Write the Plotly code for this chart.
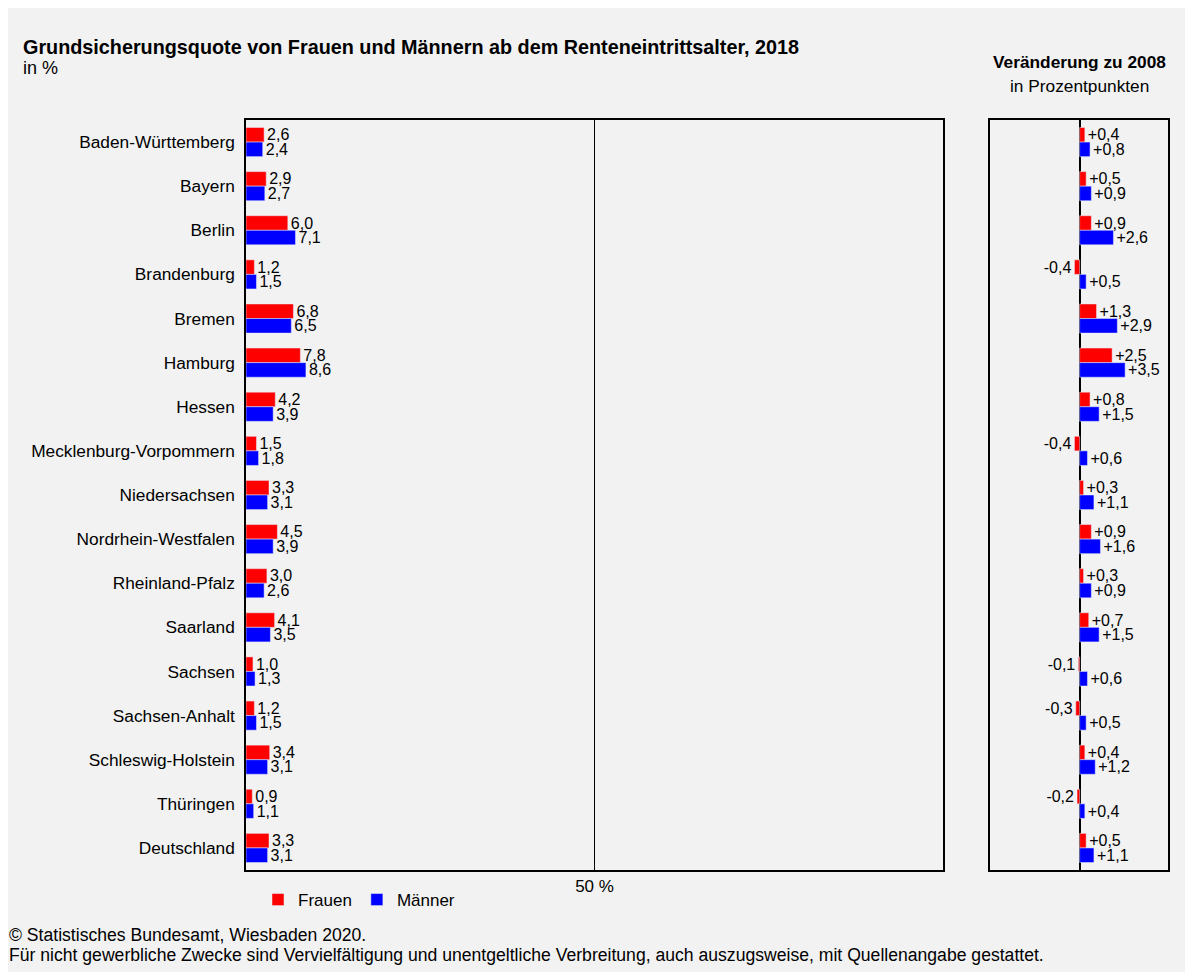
import plotly.graph_objects as go

laender = ["Baden-Württemberg", "Bayern", "Berlin", "Brandenburg", "Bremen", "Hamburg",
           "Hessen", "Mecklenburg-Vorpommern", "Niedersachsen", "Nordrhein-Westfalen",
           "Rheinland-Pfalz", "Saarland", "Sachsen", "Sachsen-Anhalt", "Schleswig-Holstein",
           "Thüringen", "Deutschland"]
frauen_2018 = [2.6, 2.9, 6.0, 1.2, 6.8, 7.8, 4.2, 1.5, 3.3, 4.5, 3.0, 4.1, 1.0, 1.2, 3.4, 0.9, 3.3]
maenner_2018 = [2.4, 2.7, 7.1, 1.5, 6.5, 8.6, 3.9, 1.8, 3.1, 3.9, 2.6, 3.5, 1.3, 1.5, 3.1, 1.1, 3.1]
frauen_diff = [0.4, 0.5, 0.9, -0.4, 1.3, 2.5, 0.8, -0.4, 0.3, 0.9, 0.3, 0.7, -0.1, -0.3, 0.4, -0.2, 0.5]
maenner_diff = [0.8, 0.9, 2.6, 0.5, 2.9, 3.5, 1.5, 0.6, 1.1, 1.6, 0.9, 1.5, 0.6, 0.5, 1.2, 0.4, 1.1]

RED = "#ff0000"
BLUE = "#0000ff"
FONT = "Liberation Sans, Arial, sans-serif"

W, H = 1193, 972
OFF = 8  # page body margin offset of the figure in the screenshot
# plot area in screen pixels
SX0, SX1, SY0, SY1 = 246, 1168, 120, 870
L = SX0 - OFF
T = SY0 - OFF
R = W - (SX1 - OFF)
B = H - (SY1 - OFF)
PW, PH = SX1 - SX0, SY1 - SY0


def px_x(p):
    return (p - SX0) / PW


def px_y(p):
    return (SY1 - p) / PH


def de(v):
    return f"{v:.1f}".replace(".", ",")


def de_sign(v):
    return f"{v:+.1f}".replace(".", ",")


fig = go.Figure()
common = dict(orientation="h", textposition="outside", cliponaxis=False, constraintext="none",
              textfont=dict(size=16, color="black", family=FONT), hoverinfo="skip")
fig.add_trace(go.Bar(y=laender, x=frauen_2018, name="Frauen", marker_color=RED,
                     text=[de(v) for v in frauen_2018], xaxis="x", yaxis="y",
                     legendgroup="f", **common))
fig.add_trace(go.Bar(y=laender, x=maenner_2018, name="Männer", marker_color=BLUE,
                     text=[de(v) for v in maenner_2018], xaxis="x", yaxis="y",
                     legendgroup="m", **common))
fig.add_trace(go.Bar(y=laender, x=frauen_diff, name="Frauen", marker_color=RED,
                     text=[de_sign(v) for v in frauen_diff], xaxis="x2", yaxis="y2",
                     showlegend=False, legendgroup="f", **common))
fig.add_trace(go.Bar(y=laender, x=maenner_diff, name="Männer", marker_color=BLUE,
                     text=[de_sign(v) for v in maenner_diff], xaxis="x2", yaxis="y2",
                     showlegend=False, legendgroup="m", **common))

left_end = px_x(943)
right_start = px_x(990)

fig.update_layout(
    width=W, height=H,
    margin=dict(l=L, r=R, t=T, b=B),
    paper_bgcolor="#f2f2f2", plot_bgcolor="#f2f2f2",
    font=dict(family=FONT, color="black", size=16),
    barmode="group", bargap=0.34, bargroupgap=0,
    xaxis=dict(domain=[0, left_end], range=[0, 100], tickvals=[50], ticktext=["50 %"],
               showgrid=True, gridcolor="black", gridwidth=1, zeroline=False,
               showline=True, linecolor="black", linewidth=1.5, mirror=True,
               ticks="", tickfont=dict(size=17), fixedrange=True),
    yaxis=dict(domain=[0, 1], autorange="reversed", showline=True, linecolor="black",
               linewidth=1.5, mirror=True, ticks="", ticklabelstandoff=6,
               tickfont=dict(size=17.3), showgrid=False),
    xaxis2=dict(domain=[right_start, 1], range=[-6.9, 6.8], showticklabels=False,
                showgrid=False, zeroline=True, zerolinecolor="black", zerolinewidth=1.5,
                showline=True, linecolor="black", linewidth=1.5, mirror=True, ticks="",
                anchor="y2"),
    yaxis2=dict(domain=[0, 1], autorange="reversed", showticklabels=False, showgrid=False,
                anchor="x2", matches="y", showline=True, linecolor="black", linewidth=1.5,
                mirror=True, ticks=""),
    legend=dict(orientation="h", x=px_x(258), y=px_y(882), xanchor="left", yanchor="top",
                font=dict(size=17), bgcolor="rgba(0,0,0,0)", itemwidth=30,
                traceorder="normal"),
    showlegend=True,
)

annotations = [
    dict(text="<b>Grundsicherungsquote von Frauen und Männern ab dem Renteneintrittsalter, 2018</b>",
         x=px_x(21), y=px_y(47), xanchor="left", yanchor="middle", font=dict(size=19.8)),
    dict(text="in %", x=px_x(21), y=px_y(68), xanchor="left", yanchor="middle",
         font=dict(size=18)),
    dict(text="<b>Veränderung zu 2008</b>", x=px_x(1079), y=px_y(62), xanchor="center",
         yanchor="middle", font=dict(size=17.3)),
    dict(text="in Prozentpunkten", x=px_x(1079), y=px_y(86), xanchor="center",
         yanchor="middle", font=dict(size=17.3)),
    dict(text="© Statistisches Bundesamt, Wiesbaden 2020.", x=px_x(7), y=px_y(935),
         xanchor="left", yanchor="middle", font=dict(size=17.6)),
    dict(text="Für nicht gewerbliche Zwecke sind Vervielfältigung und unentgeltliche Verbreitung, auch auszugsweise, mit Quellenangabe gestattet.",
         x=px_x(7), y=px_y(955), xanchor="left", yanchor="middle", font=dict(size=17.6)),
]
for a in annotations:
    a.update(xref="paper", yref="paper", showarrow=False)
fig.update_layout(annotations=annotations)

fig.write_html("out.html")
